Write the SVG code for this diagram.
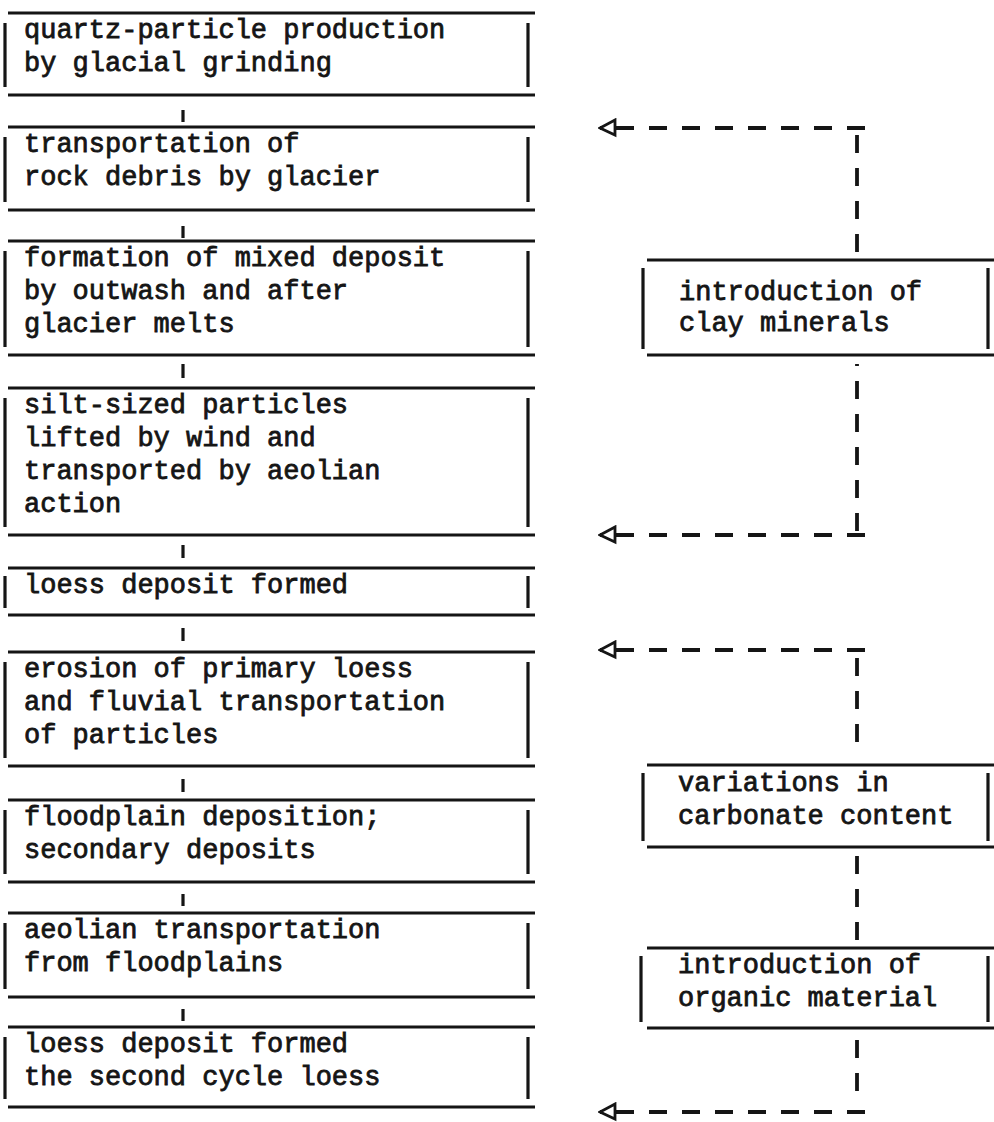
<svg xmlns="http://www.w3.org/2000/svg" width="994" height="1122" viewBox="0 0 994 1122">
<style>
.ln{stroke:#151515;stroke-width:3.2;fill:none}
.t{font-family:"Liberation Mono","Courier New",monospace;font-size:27px;fill:#151515;stroke:#151515;stroke-width:0.8}
.dash{stroke:#151515;stroke-width:3.8;fill:none;stroke-dasharray:18 15}
.tick{stroke:#151515;stroke-width:3.2;fill:none}
</style>
<defs>
<marker id="ah" viewBox="-18 -10 20 20" refX="0" refY="0" markerWidth="20" markerHeight="20" markerUnits="userSpaceOnUse" orient="auto">
<path d="M0,0 L-15,-7 L-15,8 Z" fill="#fff" stroke="#151515" stroke-width="2.8" stroke-linejoin="miter"/>
</marker>
</defs>
<rect width="994" height="1122" fill="#fff"/>
<g id="n1"><path class="ln" d="M8,13H535M8,95H535M5,23V87M528,23V87"/><text class="t" x="24" y="38">quartz-particle production<tspan x="24" dy="33">by glacial grinding</tspan></text></g>
<g id="n2"><path class="ln" d="M8,127H535M8,210H535M5,137V202M528,137V202"/><text class="t" x="24" y="152">transportation of<tspan x="24" dy="33">rock debris by glacier</tspan></text></g>
<g id="n3"><path class="ln" d="M8,241H535M8,355H535M5,251V347M528,251V347"/><text class="t" x="24" y="266">formation of mixed deposit<tspan x="24" dy="33">by outwash and after</tspan><tspan x="24" dy="33">glacier melts</tspan></text></g>
<g id="n4"><path class="ln" d="M8,388H535M8,535H535M5,398V527M528,398V527"/><text class="t" x="24" y="413">silt-sized particles<tspan x="24" dy="33">lifted by wind and</tspan><tspan x="24" dy="33">transported by aeolian</tspan><tspan x="24" dy="33">action</tspan></text></g>
<g id="n5"><path class="ln" d="M8,568H535M8,615H535M5,576V608M528,576V608"/><text class="t" x="24" y="593">loess deposit formed</text></g>
<g id="n6"><path class="ln" d="M8,652H535M8,766H535M5,662V758M528,662V758"/><text class="t" x="24" y="677">erosion of primary loess<tspan x="24" dy="33">and fluvial transportation</tspan><tspan x="24" dy="33">of particles</tspan></text></g>
<g id="n7"><path class="ln" d="M8,800H535M8,882H535M5,810V874M528,810V874"/><text class="t" x="24" y="825">floodplain deposition;<tspan x="24" dy="33">secondary deposits</tspan></text></g>
<g id="n8"><path class="ln" d="M8,913H535M8,997H535M5,923V989M528,923V989"/><text class="t" x="24" y="938">aeolian transportation<tspan x="24" dy="33">from floodplains</tspan></text></g>
<g id="n9"><path class="ln" d="M8,1027H535M8,1107H535M5,1037V1099M528,1037V1099"/><text class="t" x="24" y="1052">loess deposit formed<tspan x="24" dy="33">the second cycle loess</tspan></text></g>
<g id="r1"><path class="ln" d="M647,260H994M647,355H994M643,268V349M988,268V349"/><text class="t" x="679" y="300">introduction of<tspan x="679" dy="31">clay minerals</tspan></text></g>
<g id="r2"><path class="ln" d="M647,765H994M647,847H994M643,773V841M988,773V841"/><text class="t" x="678" y="791">variations in<tspan x="678" dy="33">carbonate content</tspan></text></g>
<g id="r3"><path class="ln" d="M647,948H994M647,1028H994M641,956V1022M988,956V1022"/><text class="t" x="678" y="973">introduction of<tspan x="678" dy="33">organic material</tspan></text></g>
<g id="connectors">
<path class="tick" d="M183,110V122M183,226V238M183,364V378M183,545V558M183,628V641M183,779V792M183,894V906M183,1009V1021"/>
<path class="dash" d="M857,252V130"/>
<path class="dash" d="M865,128H600" marker-end="url(#ah)"/>
<path class="dash" d="M857,531V364"/>
<path class="dash" d="M865,535H600" marker-end="url(#ah)"/>
<path class="dash" d="M865,650H600" marker-end="url(#ah)"/>
<path class="dash" d="M857,658V745"/>
<path class="dash" d="M857,940V853"/>
<path class="dash" d="M857,1040V1092"/>
<path class="dash" d="M865,1112H600" marker-end="url(#ah)"/>
</g>
</svg>
